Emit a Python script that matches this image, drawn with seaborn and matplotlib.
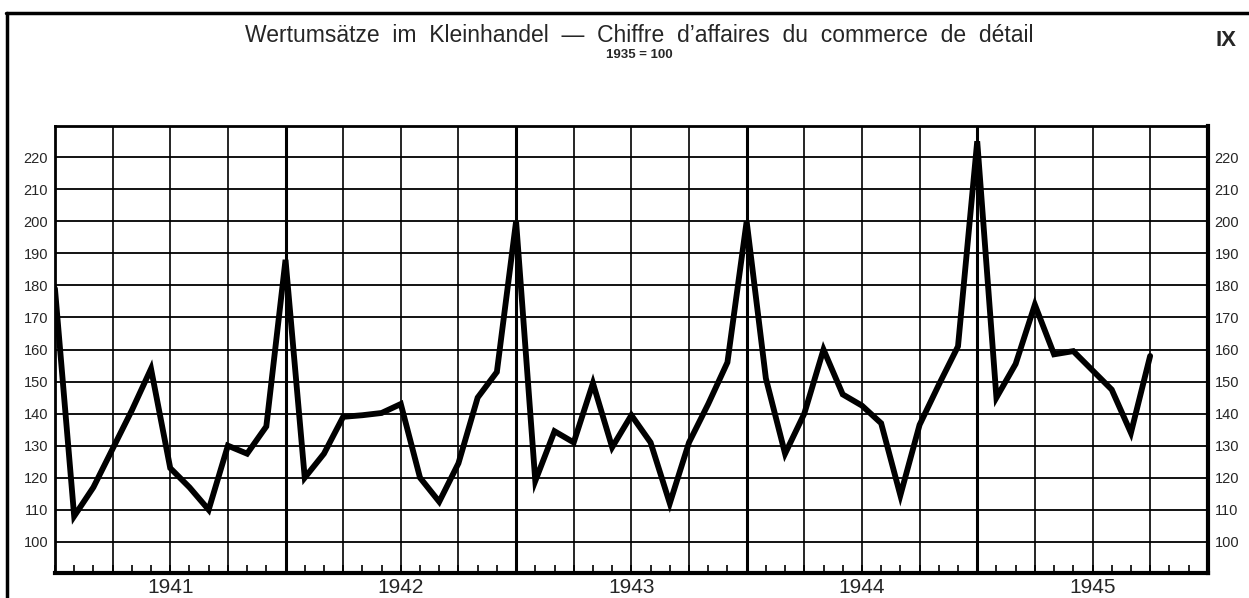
import numpy as np
import pandas as pd
import matplotlib
matplotlib.use("Agg")
import matplotlib.pyplot as plt
from matplotlib.lines import Line2D
import seaborn as sns

# monthly retail turnover index (1935 = 100), Dec 1940 .. Sep 1945
values = [179, 108, 117, 129, 141, 154, 123, 117, 110, 130, 127.5, 136,
          188, 120, 127.5, 139, 139.5, 140.2, 143, 120, 112.5, 124.5, 145, 153,
          200, 119, 134.5, 131, 149.5, 129.5, 139.5, 131, 112, 131, 143, 156,
          200, 151, 127.5, 140, 160, 146, 142.5, 137, 114.5, 136.5, 149, 161,
          225, 145, 155.5, 174, 158.5, 159.5, 153.5, 147.5, 134, 158]
years = ["1941", "1942", "1943", "1944", "1945"]
y_ticks = list(range(100, 230, 10))
title = "Wertumsätze  im  Kleinhandel  —  Chiffre  d’affaires  du  commerce  de  détail"
subtitle = "1935 = 100"
plate = "IX"

df = pd.DataFrame({"month": np.arange(len(values)), "value": values})

sns.set_style("white")
plt.rcParams["font.family"] = ["Liberation Sans", "DejaVu Sans"]

fig = plt.figure(figsize=(12.49, 5.98), dpi=100)
ax = fig.add_axes([0.044, 0.042, 0.923, 0.747])

n_months = 12 * len(years)
ax.set_xlim(0, n_months)
ax.set_ylim(90.3, 229.7)

# grid: horizontal every 10, vertical every quarter, heavier at year ends
for v in y_ticks:
    ax.axhline(v, color="black", lw=1.3, zorder=1)
for m in range(3, n_months, 3):
    ax.axvline(m, color="black", lw=2.2 if m % 12 == 0 else 1.2, zorder=1)

sns.lineplot(data=df, x="month", y="value", ax=ax, color="black",
             lw=4.2, solid_joinstyle="miter", zorder=3)

ax.set_xlabel("")
ax.set_ylabel("")
ax.set_xticks(range(0, n_months + 1))
ax.set_xticklabels([])
ax.tick_params(axis="x", direction="in", length=6, width=1.2, color="black",
               bottom=True, top=False)
ax.set_yticks(y_ticks)
ax.set_yticklabels([str(v) for v in y_ticks])
ax.tick_params(axis="y", length=0, pad=5, labelsize=10.5,
               left=True, right=True, labelleft=True, labelright=True)

for side, w in [("left", 2), ("bottom", 3), ("top", 2), ("right", 3)]:
    ax.spines[side].set_visible(True)
    ax.spines[side].set_color("black")
    ax.spines[side].set_linewidth(w)

for i, yr in enumerate(years):
    ax.text(12 * i + 6, -0.012, yr, transform=ax.get_xaxis_transform(),
            ha="center", va="top", fontsize=15)

fig.text(0.512, 0.929, title, ha="center", va="baseline", fontsize=16.5)
fig.text(0.512, 0.903, subtitle, ha="center", va="baseline", fontsize=9.5,
         fontweight="bold")
fig.text(0.9815, 0.923, plate, ha="center", va="baseline", fontsize=16,
         fontweight="bold")

# outer frame of the plate (top and left edges)
fig.add_artist(Line2D([0.005, 1.0], [0.978, 0.978], color="black", lw=2.5,
                      transform=fig.transFigure))
fig.add_artist(Line2D([0.0055, 0.0055], [0.0, 0.978], color="black", lw=2.5,
                      transform=fig.transFigure))

fig.savefig("out.png", dpi=100, facecolor="white")
